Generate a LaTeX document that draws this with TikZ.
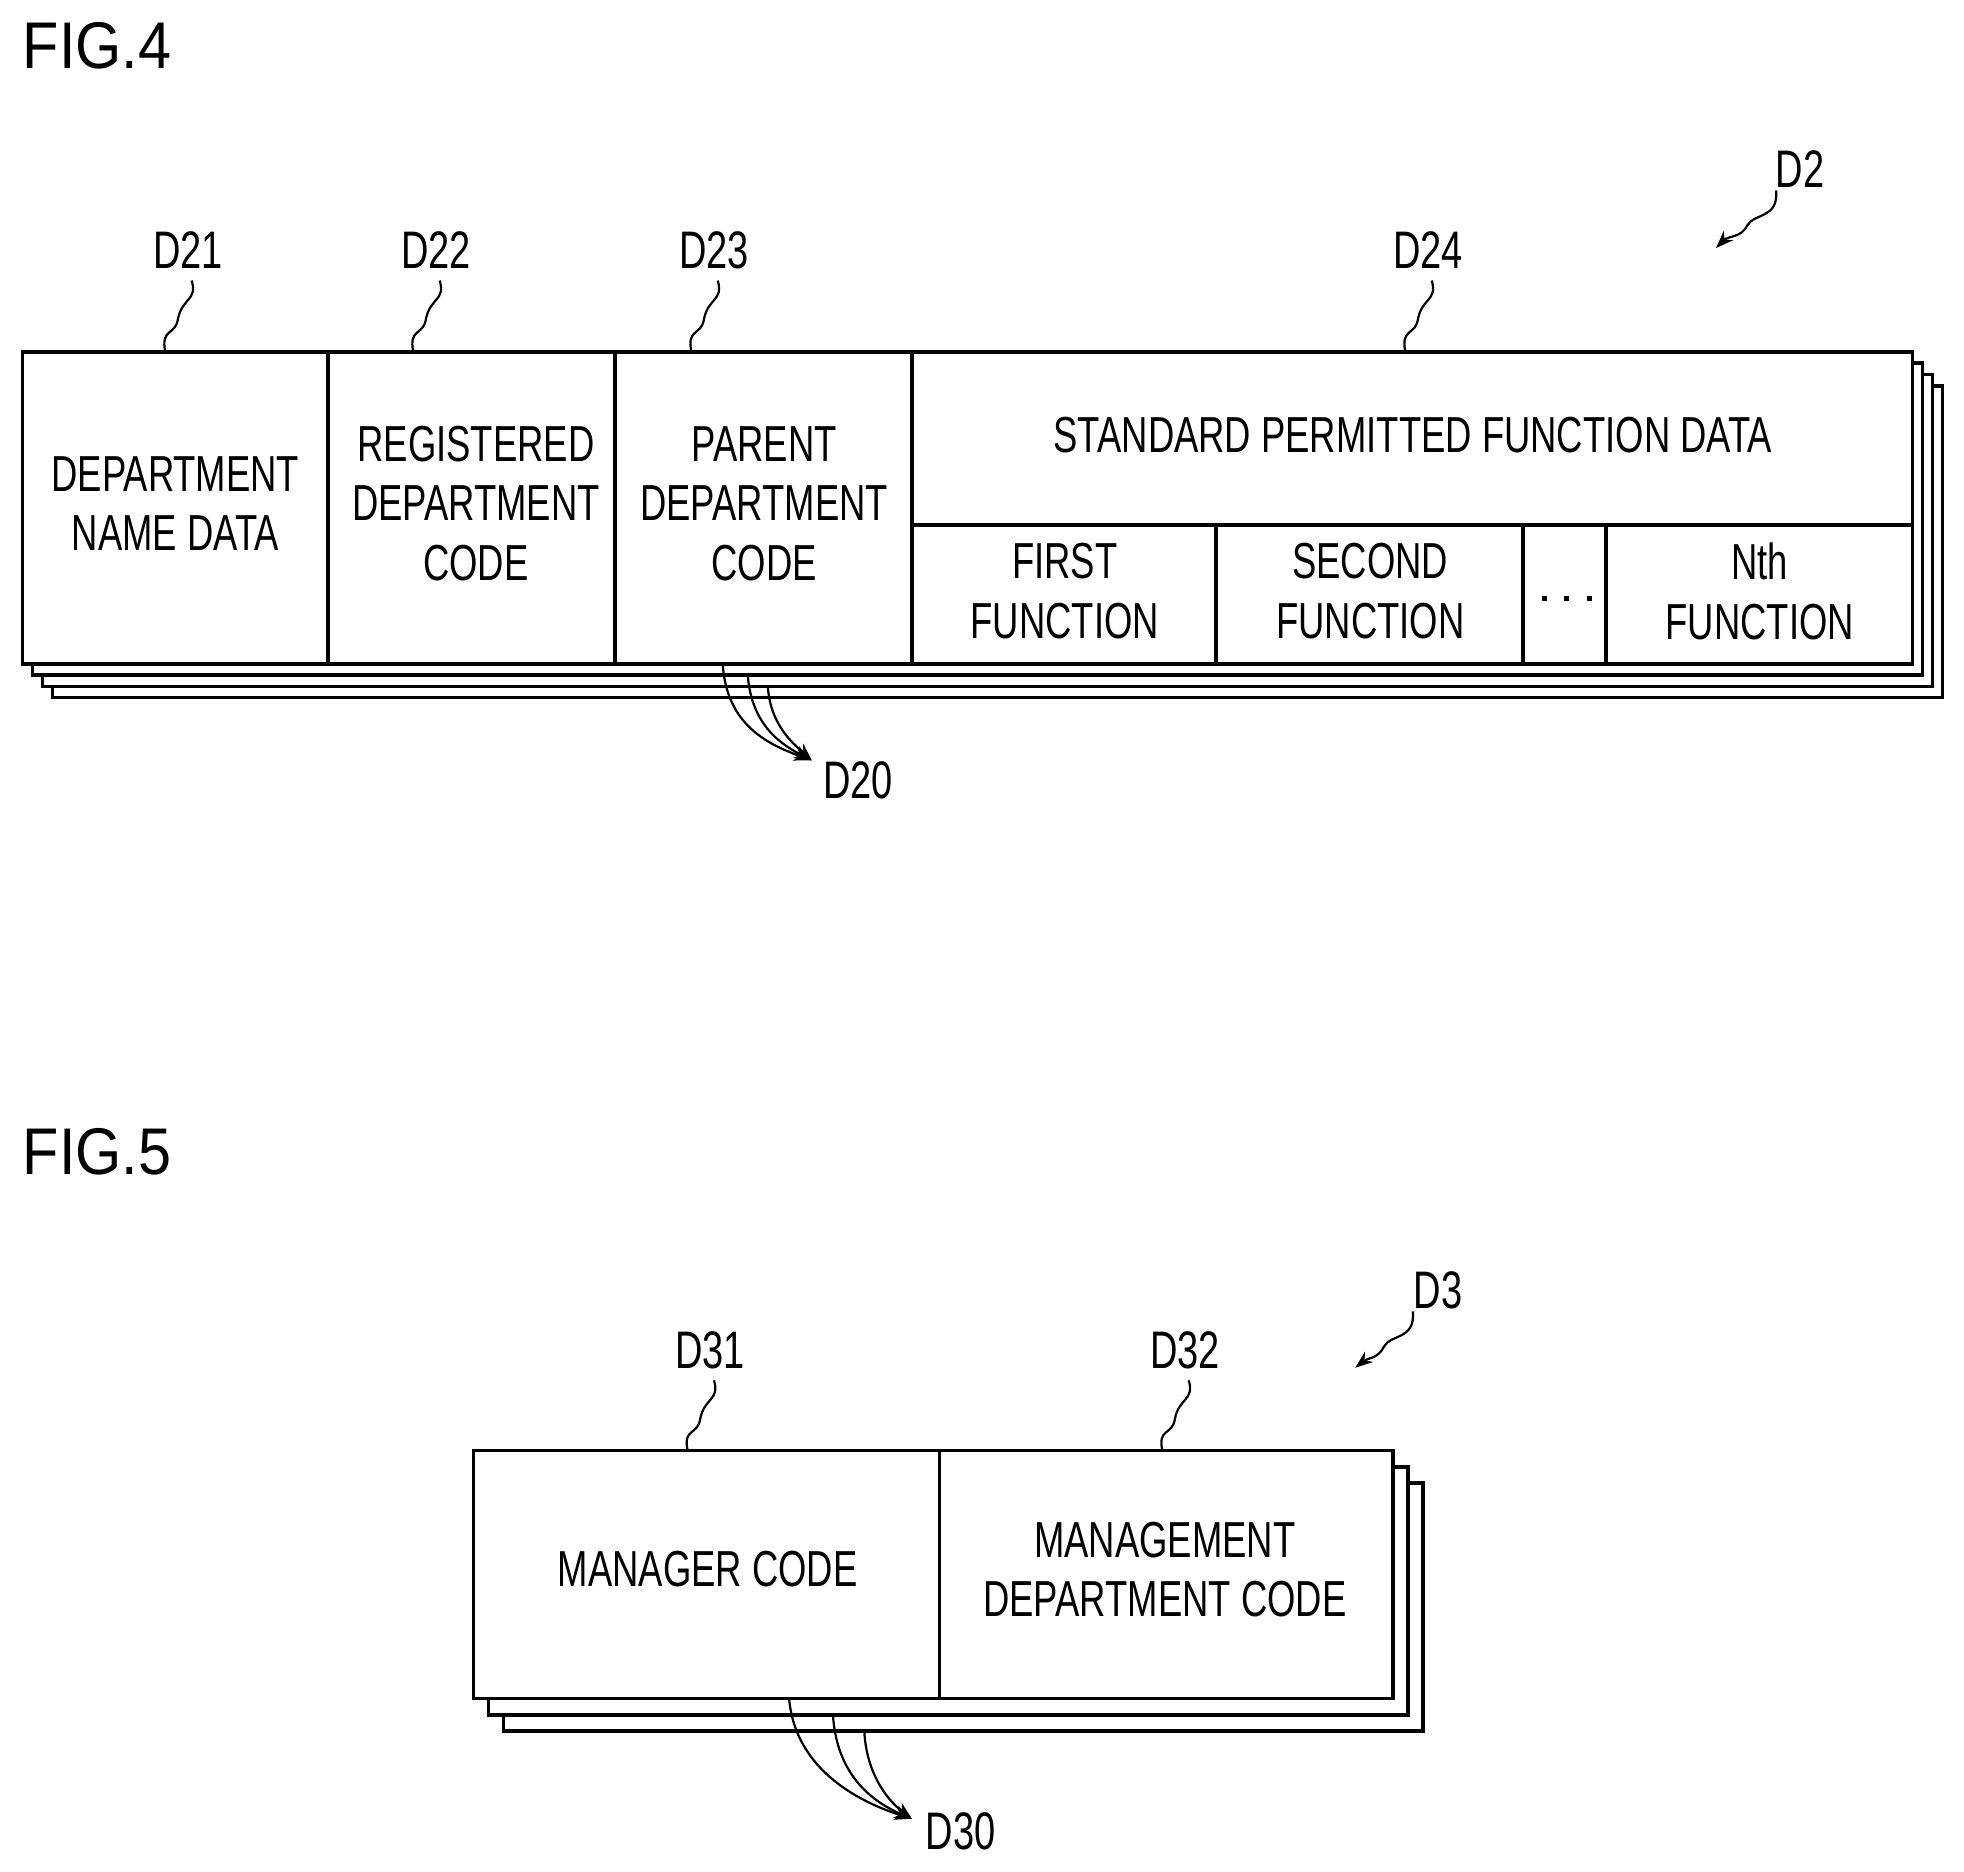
\documentclass[tikz,border=0pt]{standalone}
\usepackage{fontspec}
\setmainfont{Liberation Sans}[FakeStretch=0.72]
\newfontfamily\figfont{Liberation Sans}[FakeStretch=0.9]
\usetikzlibrary{arrows.meta}
\begin{document}
\begin{tikzpicture}[x=0.02cm,y=-0.02cm,
 box/.style={draw,line width=1.6pt,fill=white},
 lbl/.style={font=\fontsize{23}{27}\selectfont,align=center},
 ref/.style={font=\fontsize{24}{28}\selectfont},
 lead/.style={line width=1pt},
 arr/.style={line width=1pt,-{Stealth[length=8pt]}}]
\useasboundingbox (0,0) rectangle (1568,1494);
\node[anchor=north west,font=\figfont\fontsize{30}{34}\selectfont] (f4) at (12,12) {FIG.4};
\node[anchor=north west,font=\figfont\fontsize{30}{34}\selectfont] (f5) at (12,895) {FIG.5};
% FIG 4 stack
\foreach \i in {3,2,1}{\draw[box] (18+8*\i,281+9*\i) rectangle (1527+8*\i,530+9*\i);}
\draw[box] (18,281) rectangle (1527,530);
\foreach \x in {262,491,728}{\draw[line width=1.6pt] (\x,281)--(\x,530);}
\draw[line width=1.6pt] (728,419)--(1527,419);
\foreach \x in {971,1216,1282}{\draw[line width=1.6pt] (\x,419)--(\x,530);}
\node[lbl] (d21b) at (140,402) {DEPARTMENT\\NAME DATA};
\node[lbl] (d22b) at (380,402) {REGISTERED\\DEPARTMENT\\CODE};
\node[lbl] (d23b) at (610,402) {PARENT\\DEPARTMENT\\CODE};
\node[lbl] (d24b) at (1128,347) {STANDARD PERMITTED FUNCTION DATA};
\node[lbl] (f1) at (850,472) {FIRST\\FUNCTION};
\node[lbl] (f2) at (1094,472) {SECOND\\FUNCTION};
\foreach \dx in {-18,0,18}{\fill (1249+\dx,480) rectangle ++(4,-4);}
\node[lbl] (fn) at (1405,472) {Nth\\FUNCTION};
\foreach \n/\x/\t in {a/150/D21,b/348/D22,c/570/D23,d/1140/D24}{
 \node[ref] (r\n) at (\x,200) {\t};
 \draw[lead] (\x+3,224) .. controls (\x+8,240) and (\x-5,238) .. (\x-8,255) .. controls (\x-10,268) and (\x-22,262) .. (\x-18,281);
}
\node[ref] (rd2) at (1437,135) {D2};
\draw[arr] (1418,152) .. controls (1420,175) and (1400,170) .. (1395,180) .. controls (1390,190) and (1380,188) .. (1370,198);
\node[ref] (rd20) at (685,623) {D20};
\coordinate (c20) at (648,607);
\draw[arr] (577,530) .. controls (580,580) and (615,595) .. (c20);
\draw[arr] (597,539) .. controls (600,580) and (625,595) .. (c20);
\draw[arr] (613,548) .. controls (615,580) and (635,595) .. (c20);
% FIG 5
\foreach \i in {2,1}{\draw[box] (378+12*\i,1158+13*\i) rectangle (1112+12*\i,1356+13*\i);}
\draw[box] (378,1158) rectangle (1112,1356);
\draw[line width=1.6pt] (750,1158)--(750,1356);
\node[lbl] (m1) at (565,1253) {MANAGER CODE};
\node[lbl] (m2) at (930,1253) {MANAGEMENT\\DEPARTMENT CODE};
\foreach \n/\x/\t in {e/567/D31,f/946/D32}{
 \node[ref] (r\n) at (\x,1078) {\t};
 \draw[lead] (\x+3,1102) .. controls (\x+8,1118) and (\x-5,1116) .. (\x-8,1133) .. controls (\x-10,1146) and (\x-22,1140) .. (\x-18,1158);
}
\node[ref] (rd3) at (1148,1030) {D3};
\draw[arr] (1128,1047) .. controls (1130,1070) and (1110,1065) .. (1105,1075) .. controls (1100,1085) and (1092,1084) .. (1082,1092);
\node[ref] (rd30) at (767,1462) {D30};
\coordinate (c30) at (728,1452);
\draw[arr] (630,1356) .. controls (635,1415) and (690,1440) .. (c30);
\draw[arr] (665,1369) .. controls (668,1420) and (700,1440) .. (c30);
\draw[arr] (690,1382) .. controls (692,1420) and (712,1440) .. (c30);
\end{tikzpicture}
\end{document}
